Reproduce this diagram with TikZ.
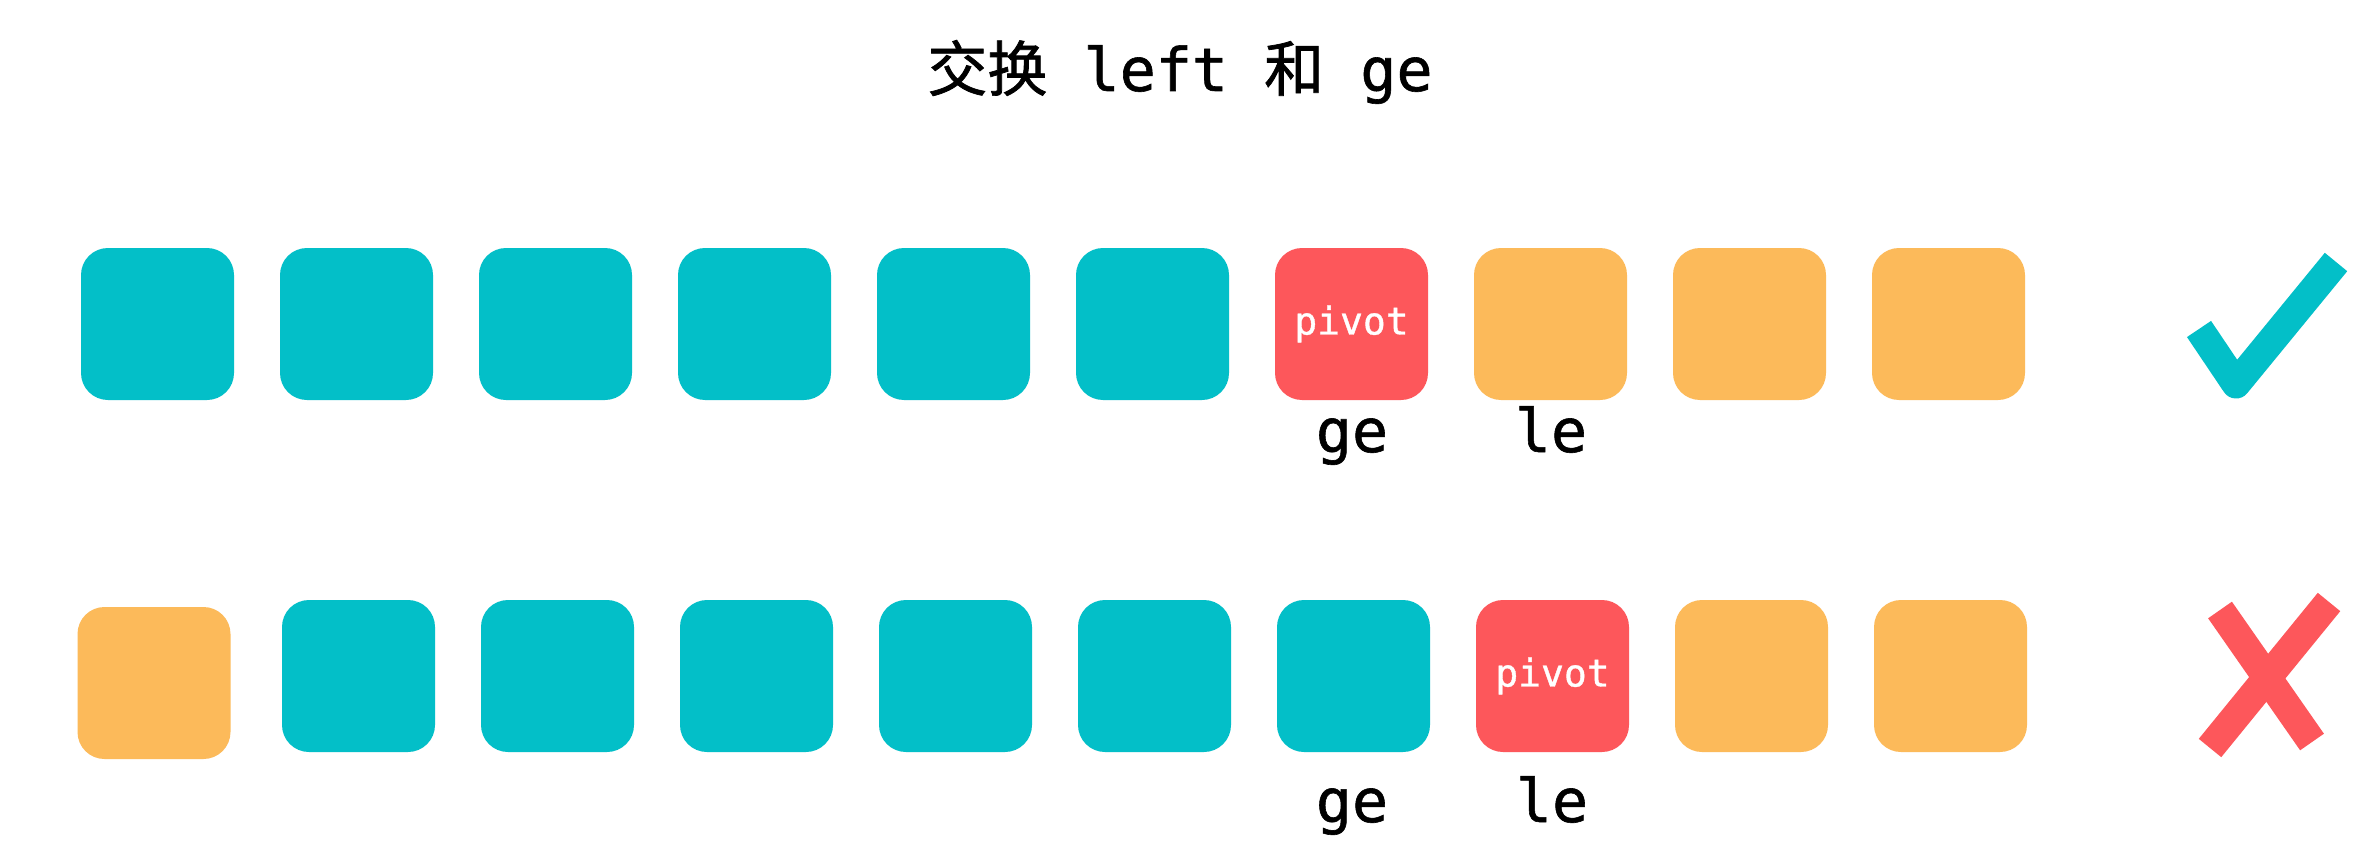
\documentclass[tikz,border=0pt]{standalone}
\usepackage{fontspec}
\setmainfont{DejaVu Sans Mono}
\newfontfamily\cjk[FakeBold=1.2]{Noto Sans CJK SC}
\newfontfamily\monofat[FakeBold=1]{DejaVu Sans Mono}
\definecolor{tealbox}{HTML}{03BFC8}
\definecolor{redbox}{HTML}{FD575B}
\definecolor{orangebox}{HTML}{FCBA5A}
\tikzset{
  cell/.style={minimum width=153pt, minimum height=152pt, inner sep=0pt, rounded corners=27pt, draw=none},
  tcell/.style={cell, fill=tealbox},
  ocell/.style={cell, fill=orangebox},
  pcell/.style={cell, fill=redbox, text=white, font=\monofat\fontsize{38}{40}\selectfont},
  ptr/.style={anchor=base, inner sep=0pt, font=\monofat\fontsize{60}{62}\selectfont},
  titletext/.style={anchor=base, inner sep=0pt, font=\monofat\fontsize{60}{62}\selectfont},
  brush/.style={line width=29pt, line cap=butt, line join=round}
}
\begin{document}
\begin{tikzpicture}[x=1pt, y=-1pt]
\useasboundingbox (0,0) rectangle (2380,856);
\fill[white] (0,0) rectangle (2380,856);
% title
\node[titletext] (title) at (1180,91) {{\cjk 交换} left {\cjk 和} ge};
% row 1
\foreach \i in {0,...,5} {
  \node[tcell] (a\i) at ({157.5+199*\i},324) {};
}
\node[pcell] (a6) at ({157.5+199*6},324) {pivot};
\foreach \i in {7,8,9} {
  \node[ocell] (a\i) at ({157.5+199*\i},324) {};
}
\node[ptr] (ge1) at (1352,452) {ge};
\node[ptr] (le1) at (1551,452) {le};
% row 2
\node[ocell] (b0) at (154,683) {};
\foreach \i in {1,...,6} {
  \node[tcell] (b\i) at ({358.5+199*(\i-1)},676) {};
}
\node[pcell] (b7) at ({358.5+199*6},676) {pivot};
\foreach \i in {8,9} {
  \node[ocell] (b\i) at ({358.5+199*(\i-1)},676) {};
}
\node[ptr] (ge2) at (1352,822) {ge};
\node[ptr] (le2) at (1552,822) {le};
% check mark
\coordinate (c1) at (2199,329);
\coordinate (c2) at (2236,384);
\coordinate (c3) at (2336,262);
\draw[brush, tealbox] (c1) -- (c2) -- (c3);
% cross
\coordinate (x1) at (2220,610);
\coordinate (x2) at (2312,742);
\coordinate (x3) at (2329,602);
\coordinate (x4) at (2210,748);
\draw[brush, redbox] (x1) -- (x2);
\draw[brush, redbox] (x3) -- (x4);
\end{tikzpicture}
\end{document}
